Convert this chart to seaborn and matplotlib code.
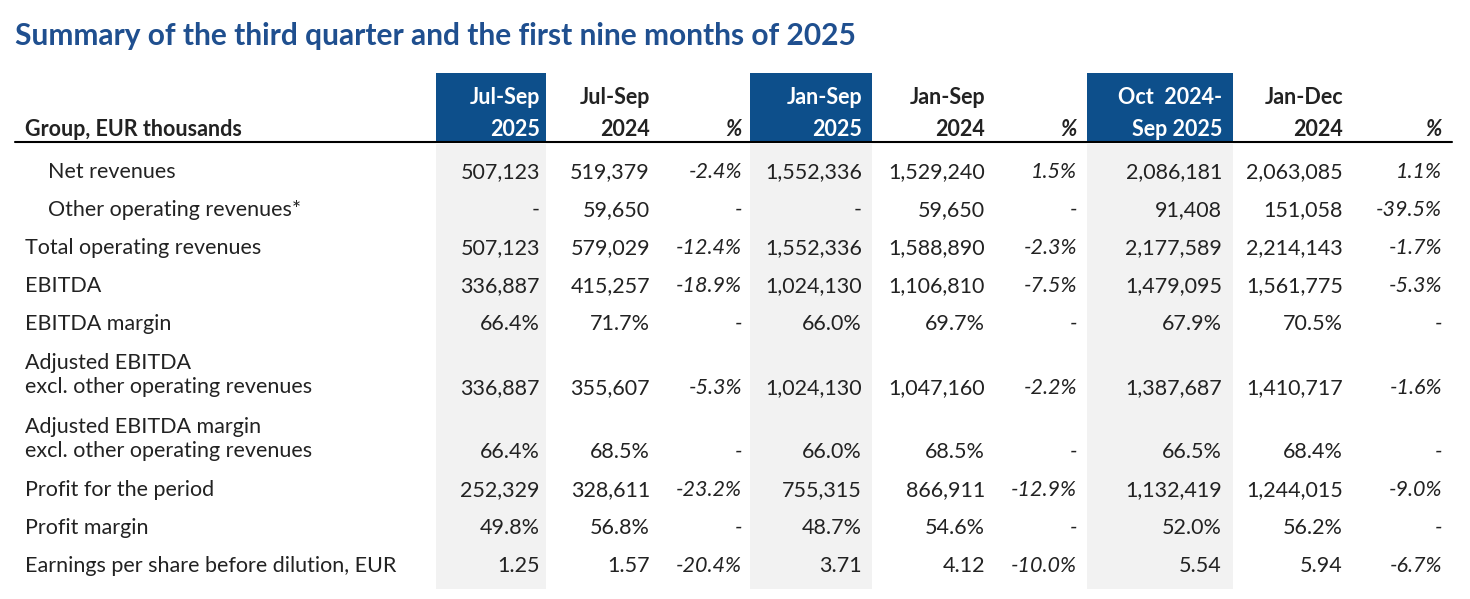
import matplotlib
matplotlib.use("Agg")
import matplotlib.pyplot as plt
import seaborn as sns

sns.set_theme(style="white")
plt.rcParams['font.family'] = ['Lato', 'DejaVu Sans']

title = "Summary of the third quarter and the first nine months of 2025"
headers = [("Jul-Sep", "2025"), ("Jul-Sep", "2024"), ("", "%"),
           ("Jan-Sep", "2025"), ("Jan-Sep", "2024"), ("", "%"),
           ("Oct  2024-", "Sep 2025"), ("Jan-Dec", "2024"), ("", "%")]
highlight = [0, 3, 6]
rows = ["Net revenues", "Other operating revenues*", "Total operating revenues",
        "EBITDA", "EBITDA margin",
        "Adjusted EBITDA\nexcl. other operating revenues",
        "Adjusted EBITDA margin\nexcl. other operating revenues",
        "Profit for the period", "Profit margin",
        "Earnings per share before dilution, EUR"]
indent = [True, True] + [False] * 8
values = [
    ["507,123", "519,379", "-2.4%", "1,552,336", "1,529,240", "1.5%", "2,086,181", "2,063,085", "1.1%"],
    ["-", "59,650", "-", "-", "59,650", "-", "91,408", "151,058", "-39.5%"],
    ["507,123", "579,029", "-12.4%", "1,552,336", "1,588,890", "-2.3%", "2,177,589", "2,214,143", "-1.7%"],
    ["336,887", "415,257", "-18.9%", "1,024,130", "1,106,810", "-7.5%", "1,479,095", "1,561,775", "-5.3%"],
    ["66.4%", "71.7%", "-", "66.0%", "69.7%", "-", "67.9%", "70.5%", "-"],
    ["336,887", "355,607", "-5.3%", "1,024,130", "1,047,160", "-2.2%", "1,387,687", "1,410,717", "-1.6%"],
    ["66.4%", "68.5%", "-", "66.0%", "68.5%", "-", "66.5%", "68.4%", "-"],
    ["252,329", "328,611", "-23.2%", "755,315", "866,911", "-12.9%", "1,132,419", "1,244,015", "-9.0%"],
    ["49.8%", "56.8%", "-", "48.7%", "54.6%", "-", "52.0%", "56.2%", "-"],
    ["1.25", "1.57", "-20.4%", "3.71", "4.12", "-10.0%", "5.54", "5.94", "-6.7%"],
]

# layout in pixel coordinates
col_right = [540, 650, 742, 862, 985, 1077, 1222, 1343, 1442]
box_span = {0: (436, 546), 3: (750, 872), 6: (1087, 1233)}
row_y = [172, 210, 248, 286, 324, 388, 452, 490, 528, 566]
blue = "#0d4f8b"
txt = "#222222"
fs = 15.5

fig = plt.figure(figsize=(14.7, 5.99), dpi=100)
ax = fig.add_axes([0, 0, 1, 1])
ax.set_xlim(0, 1470)
ax.set_ylim(599, 0)
ax.axis("off")

ax.text(15, 36, title, color="#1f4f8f", fontsize=21.5, fontweight="bold", va="center")

for c, (x0, x1) in box_span.items():
    ax.add_patch(plt.Rectangle((x0, 73), x1 - x0, 68, color=blue, lw=0))
    ax.add_patch(plt.Rectangle((x0, 144), x1 - x0, 445, color="#f2f2f2", lw=0))

ax.text(25, 129, "Group, EUR thousands", fontsize=fs, fontweight="bold", color=txt, va="center")
for i, (h1, h2) in enumerate(headers):
    col = "white" if i in highlight else txt
    style = "italic" if h2 == "%" else "normal"
    if h1:
        ax.text(col_right[i], 97, h1, ha="right", va="center", fontsize=fs, fontweight="bold", color=col)
    ax.text(col_right[i], 129, h2, ha="right", va="center", fontsize=fs, fontweight="bold",
            color=col, style=style)
ax.plot([15, 1452], [142, 142], color="black", lw=1.5)

for r, (label, y) in enumerate(zip(rows, row_y)):
    lx = 48 if indent[r] else 25
    ly = y - 13 if "\n" in label else y
    ax.text(lx, ly, label, fontsize=fs, color=txt, va="center", linespacing=1.2)
    for i, v in enumerate(values[r]):
        style = "italic" if i in (2, 5, 8) else "normal"
        ax.text(col_right[i], y, v, ha="right", va="center", fontsize=fs, color=txt, style=style)

fig.savefig("out.png", dpi=100)
